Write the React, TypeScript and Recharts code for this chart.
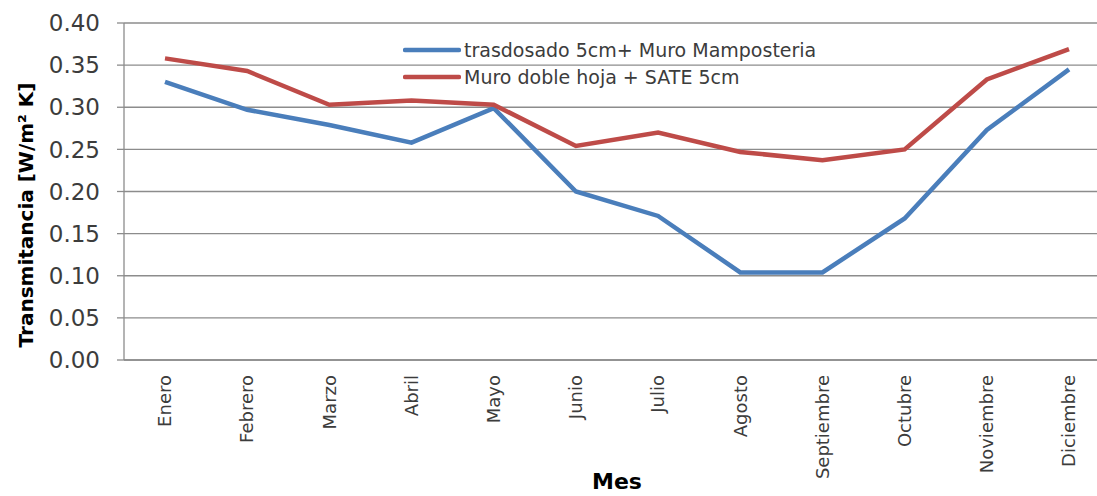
import React from 'react';
import { LineChart, Line, XAxis, YAxis, CartesianGrid } from 'recharts';

// month labels on the category axis
const months = [
  'Enero', 'Febrero', 'Marzo', 'Abril', 'Mayo', 'Junio',
  'Julio', 'Agosto', 'Septiembre', 'Octubre', 'Noviembre', 'Diciembre',
];

// transmitancia values, W/m2K
const trasdosado = [0.330, 0.297, 0.279, 0.258, 0.299, 0.200, 0.171, 0.104, 0.104, 0.168, 0.273, 0.345];
const dobleHoja = [0.358, 0.343, 0.303, 0.308, 0.303, 0.254, 0.270, 0.247, 0.237, 0.250, 0.333, 0.369];

const yTicks = [0, 0.05, 0.1, 0.15, 0.2, 0.25, 0.3, 0.35, 0.4];

const seriesNames = ['trasdosado 5cm+ Muro Mamposteria', 'Muro doble hoja + SATE 5cm'];

const data = months.map((m, i) => ({
  mes: m,
  trasdosado: trasdosado[i],
  dobleHoja: dobleHoja[i],
}));

const FONT = '"DejaVu Sans", sans-serif';
const TEXT = '#3c3c3c';
const GRID = '#8c8c8c';
const BLUE = '#4A7EBB';
const RED = '#BE4B48';

const MonthTick = (props: any) => {
  const { x, y, payload } = props;
  return (
    <text
      x={x}
      y={y}
      dy="0.35em"
      transform={`rotate(-90, ${x}, ${y})`}
      textAnchor="end"
      fontFamily={FONT}
      fontSize={18}
      fill={TEXT}
    >
      {payload.value}
    </text>
  );
};

// drawn outside the chart so recharts doesn't reserve room for it
const LegendBox = () => {
  const items = [
    { name: seriesNames[0], color: BLUE },
    { name: seriesNames[1], color: RED },
  ];
  return (
    <div style={{ position: 'absolute', left: 403, top: 36, fontFamily: FONT, fontSize: 19, color: TEXT }}>
      {items.map((it) => (
        <div key={it.name} style={{ display: 'flex', alignItems: 'center', height: 27 }}>
          <svg width={58} height={8} style={{ marginRight: 3 }}>
            <line x1={2} y1={4} x2={56} y2={4} stroke={it.color} strokeWidth={4.5} strokeLinecap="round" />
          </svg>
          <span style={{ whiteSpace: 'nowrap' }}>{it.name}</span>
        </div>
      ))}
    </div>
  );
};

const YTitle = () => (
  <text
    x={26}
    y={215}
    transform="rotate(-90, 26, 215)"
    textAnchor="middle"
    dominantBaseline="central"
    fontFamily={FONT}
    fontWeight="bold"
    fontSize={20}
    fill="#000"
  >
    Transmitancia [W/m² K]
  </text>
);

export default function App() {
  return (
    <div style={{ position: 'absolute', left: 0, top: 0, width: 1097, height: 496, overflow: 'hidden', background: '#fff' }}>
      <LineChart width={1114} height={496} data={data} margin={{ top: 23, right: 4, bottom: 0, left: 0 }}>
        <CartesianGrid vertical={false} stroke={GRID} strokeWidth={1.3} />
        <XAxis
          dataKey="mes"
          type="category"
          interval={0}
          height={136}
          padding={{ left: 41, right: 41 }}
          axisLine={{ stroke: GRID, strokeWidth: 1.3 }}
          tickLine={false}
          tickSize={6}
          tickMargin={9}
          tick={<MonthTick />}
          label={{
            value: 'Mes',
            position: 'insideBottom',
            offset: 7,
            style: { fontFamily: FONT, fontWeight: 'bold', fontSize: 22, fill: '#000' },
          }}
        />
        <YAxis
          width={124}
          domain={[0, 0.4]}
          ticks={yTicks}
          interval={0}
          tickFormatter={(v: number) => v.toFixed(2)}
          axisLine={{ stroke: GRID, strokeWidth: 1.3 }}
          tickLine={{ stroke: GRID, strokeWidth: 1.3 }}
          tickSize={7}
          tickMargin={17}
          tick={{ fontFamily: FONT, fontSize: 23, fill: TEXT }}
          label={<YTitle />}
        />
        <Line
          dataKey="trasdosado"
          name={seriesNames[0]}
          stroke={BLUE}
          strokeWidth={4.5}
          dot={false}
          activeDot={false}
          isAnimationActive={false}
        />
        <Line
          dataKey="dobleHoja"
          name={seriesNames[1]}
          stroke={RED}
          strokeWidth={4.5}
          dot={false}
          activeDot={false}
          isAnimationActive={false}
        />
      </LineChart>
      <LegendBox />
    </div>
  );
}
